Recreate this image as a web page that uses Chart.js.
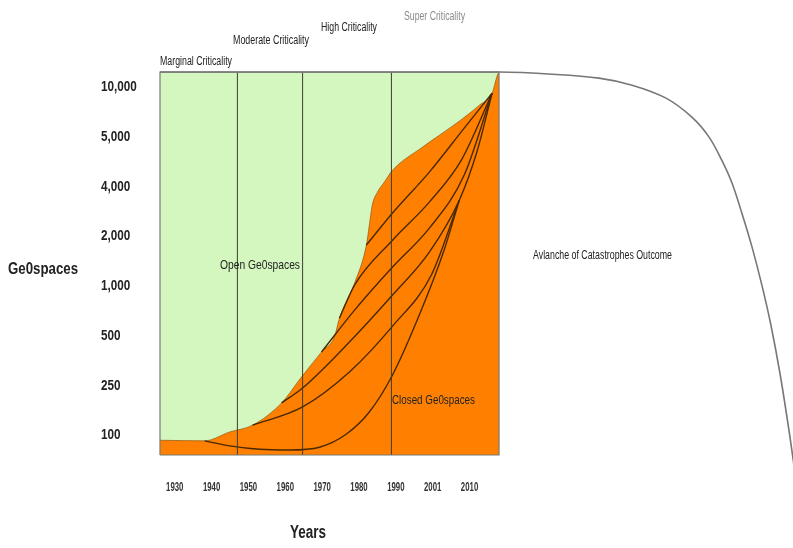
<!DOCTYPE html>
<html><head><meta charset="utf-8">
<script src="https://cdn.jsdelivr.net/npm/chart.js@4.4.0/dist/chart.umd.min.js"></script>
<style>html,body{margin:0;padding:0;background:#fff}#wrap{width:793px;height:548px;position:relative}</style>
</head><body><div id="wrap"><canvas id="c"></canvas></div>
<script>
// ---- axis labels ----
const xTickYears = [1930, 1940, 1950, 1960, 1970, 1980, 1990, 2001, 2010];
const yTickValues = [100, 250, 500, 1000, 2000, 4000, 5000, 10000];

// ---- criticality era boundaries (years) ----
const eraYears = [1947.0, 1964.7, 1988.8];
const eraNames = ['Marginal Criticality', 'Moderate Criticality', 'High Criticality', 'Super Criticality'];

// ---- ceiling / observed period ----
const ceilingValue = 12300;
const startYear = 1926;
const observedEndYear = 2017.2;
const endYear = 2089;

// ---- open/closed geospaces front ----
const frontYears  = [1926, 1938.1, 1944.9, 1951.1, 1959.0, 1964.4, 1969.8, 1973.3, 1974.7, 1978.8, 1982.0, 1982.8, 1983.6, 1985.0, 1986.9, 1989.1, 1997.9, 2006.8, 2012.4, 2015.5, 2016.8, 2017.2];
const frontValues = [91, 90, 106, 120, 181, 281, 397, 490, 638, 1040, 1765, 2330, 3080, 3690, 4080, 4300, 4770, 6030, 7750, 9160, 11780, 12300];

// ---- closure paths inside the closed region ----
const path1Years  = [1982.0, 1989.1, 2000.0, 2008.7, 2015.5];
const path1Values = [1765, 2760, 4265, 5630, 9160];
const path2Years  = [1974.7, 1978.8, 1989.1, 2000.0, 2008.0, 2015.5];
const path2Values = [638, 1011, 1890, 3213, 4500, 9160];
const path3Years  = [1969.8, 1978.8, 1989.1, 2000.0, 2008.7, 2015.5];
const path3Values = [397, 713, 1300, 2236, 4210, 9160];
const path4Years  = [1959.0, 1964.7, 1977.4, 1989.1, 2000.0, 2007.5, 2011.9, 2015.5];
const path4Values = [181, 238, 457, 880, 1601, 3300, 4700, 9160];
const path5Years  = [1951.1, 1964.7, 1977.4, 1989.1, 2000.6, 2007.5];
const path5Values = [120, 168, 301, 571, 1163, 3300];
const path6Years  = [1938.1, 1944.9, 1953.0, 1961.1, 1969.3, 1976.6, 1982.8, 1989.1, 1997.0, 2003.8, 2007.5];
const path6Values = [90, 82, 77, 76, 80, 102, 153, 289, 666, 1650, 3300];

// ---- avalanche of catastrophes outcome ----
const avalancheYears  = [1926, 2017.2, 2030.2, 2041.6, 2049.7, 2058.0, 2064.3, 2068.5, 2071.6, 2074.1, 2076.5, 2079.0, 2081.4, 2083.6, 2085.8, 2088.0, 2089.7, 2090.9];
const avalancheValues = [12300, 12300, 11940, 11300, 10245, 8550, 6560, 4990, 4500, 4060, 2760, 1716, 1010, 580, 297, 110, 44, 21];

// ---- mapping helpers (axes are label-spaced) ----
function yearToIdx(y) {
  const t = xTickYears, n = t.length;
  if (y <= t[0]) return (y - t[0]) / (t[1] - t[0]);
  for (let i = 0; i < n - 1; i++) if (y <= t[i + 1]) return i + (y - t[i]) / (t[i + 1] - t[i]);
  return n - 1 + (y - t[n - 1]) / (t[n - 1] - t[n - 2]);
}
function valueToLevel(v) {
  const t = yTickValues, n = t.length;
  if (v <= t[0]) return Math.log(v / t[0]) / Math.log(t[1] / t[0]);
  for (let i = 0; i < n - 1; i++) if (v <= t[i + 1]) return i + Math.log(v / t[i]) / Math.log(t[i + 1] / t[i]);
  return n - 1 + Math.log(v / t[n - 1]) / Math.log(t[n - 1] / t[n - 2]);
}
const pts = (ys, vs) => ys.map((y, i) => ({ x: yearToIdx(y), y: valueToLevel(vs[i]) }));

const Y_MIN = -0.4, Y_MAX = 7.3;
const GREEN = '#d4f7bf', ORANGE = '#ff8000', LINE = '#4a2800';
const SANS = "'Liberation Sans',Arial,sans-serif";

const lineDs = (ys, vs) => ({
  data: pts(ys, vs), borderColor: LINE, borderWidth: 1.4, pointRadius: 0,
  fill: false, cubicInterpolationMode: 'monotone', order: 5
});

const datasets = [
  { data: [{x: yearToIdx(startYear), y: valueToLevel(ceilingValue)}, {x: yearToIdx(observedEndYear), y: valueToLevel(ceilingValue)}],
    fill: 'start', backgroundColor: GREEN, borderWidth: 0, pointRadius: 0, order: 10 },
  { data: pts(frontYears, frontValues), fill: 'start', backgroundColor: ORANGE,
    borderColor: 'rgba(120,60,0,0.55)', borderWidth: 1, pointRadius: 0, cubicInterpolationMode: 'monotone', order: 9 },
  lineDs(path1Years, path1Values),
  lineDs(path2Years, path2Values),
  lineDs(path3Years, path3Values),
  lineDs(path4Years, path4Values),
  lineDs(path5Years, path5Values),
  lineDs(path6Years, path6Values),
];
eraYears.forEach(yr => datasets.push({
  data: [{x: yearToIdx(yr), y: Y_MIN}, {x: yearToIdx(yr), y: valueToLevel(ceilingValue)}],
  borderColor: '#3c3c30', borderWidth: 1, pointRadius: 0, fill: false, order: 4
}));
datasets.push({
  data: [{x: yearToIdx(startYear), y: Y_MIN}, {x: yearToIdx(startYear), y: valueToLevel(ceilingValue)},
         {x: yearToIdx(observedEndYear), y: valueToLevel(ceilingValue)}, {x: yearToIdx(observedEndYear), y: Y_MIN},
         {x: yearToIdx(startYear), y: Y_MIN}],
  borderColor: '#7a7a70', borderWidth: 1.2, pointRadius: 0, fill: false, clip: 4, order: 3
});
datasets.push({
  data: pts(avalancheYears, avalancheValues), borderColor: '#777', borderWidth: 1.6, pointRadius: 0,
  fill: false, tension: 0.35, clip: false, order: 2
});

function condText(ctx, txt, x, y, font, k, align, color) {
  ctx.save();
  ctx.font = font; ctx.fillStyle = color; ctx.textBaseline = 'middle'; ctx.textAlign = align;
  ctx.translate(x, y); ctx.scale(k, 1); ctx.fillText(txt, 0, 0);
  ctx.restore();
}

const textPlugin = {
  id: 'texts',
  afterDraw(chart) {
    const ctx = chart.ctx;
    const xs = chart.scales.x, ys = chart.scales.y;
    // axis tick labels, positioned by the chart's scales
    yTickValues.forEach((v, i) => {
      condText(ctx, v.toLocaleString('en-US'), 101, ys.getPixelForValue(i), 'bold 15px ' + SANS, 0.78, 'left', '#222');
    });
    xTickYears.forEach((yr, i) => {
      condText(ctx, String(yr), xs.getPixelForValue(i), 487, 'bold 13px ' + SANS, 0.6, 'center', '#333');
    });
    ctx.save();
    ctx.textBaseline = 'middle';
    ctx.textAlign = 'left';
    const put = (txt, x, y, font, color, maxW) => {
      ctx.font = font; ctx.fillStyle = color;
      ctx.fillText(txt, x, y, maxW);
    };
    put(eraNames[0], 160, 62, '12px ' + SANS, '#222', 72);
    put(eraNames[1], 233, 41, '12px ' + SANS, '#222', 76);
    put(eraNames[2], 321, 28, '12px ' + SANS, '#222', 56);
    put(eraNames[3], 404, 17, '12px ' + SANS, '#8a8a8a', 61);
    put('Open Ge0spaces', 220, 265, '13px ' + SANS, '#222', 80);
    put('Closed Ge0spaces', 392, 400, '13px ' + SANS, '#222', 83);
    put('Avlanche of Catastrophes Outcome', 533, 256, '12px ' + SANS, '#222', 139);
    put('Ge0spaces', 8, 270, 'bold 16px ' + SANS, '#222', 70);
    ctx.textAlign = 'center';
    put('Years', 308, 533, 'bold 18px ' + SANS, '#222', 36);
    ctx.restore();
  }
};

new Chart(document.getElementById('c'), {
  type: 'line',
  data: { datasets },
  options: {
    responsive: true, maintainAspectRatio: false, animation: false,
    layout: { padding: { top: 72, left: 0, right: 0, bottom: 0 } },
    plugins: { legend: { display: false }, tooltip: { enabled: false } },
    scales: {
      x: {
        type: 'linear', min: yearToIdx(startYear), max: yearToIdx(endYear),
        afterBuildTicks: s => { s.ticks = xTickYears.map((y, i) => ({ value: i })); },
        afterFit: s => { s.height = 93; },
        ticks: { display: false },
        grid: { display: false, drawTicks: false }, border: { display: false }
      },
      y: {
        type: 'linear', min: Y_MIN, max: Y_MAX,
        afterBuildTicks: s => { s.ticks = yTickValues.map((v, i) => ({ value: i })); },
        afterFit: s => { s.width = 160; },
        ticks: { display: false },
        grid: { display: false, drawTicks: false }, border: { display: false }
      }
    }
  },
  plugins: [textPlugin]
});
</script></body></html>
